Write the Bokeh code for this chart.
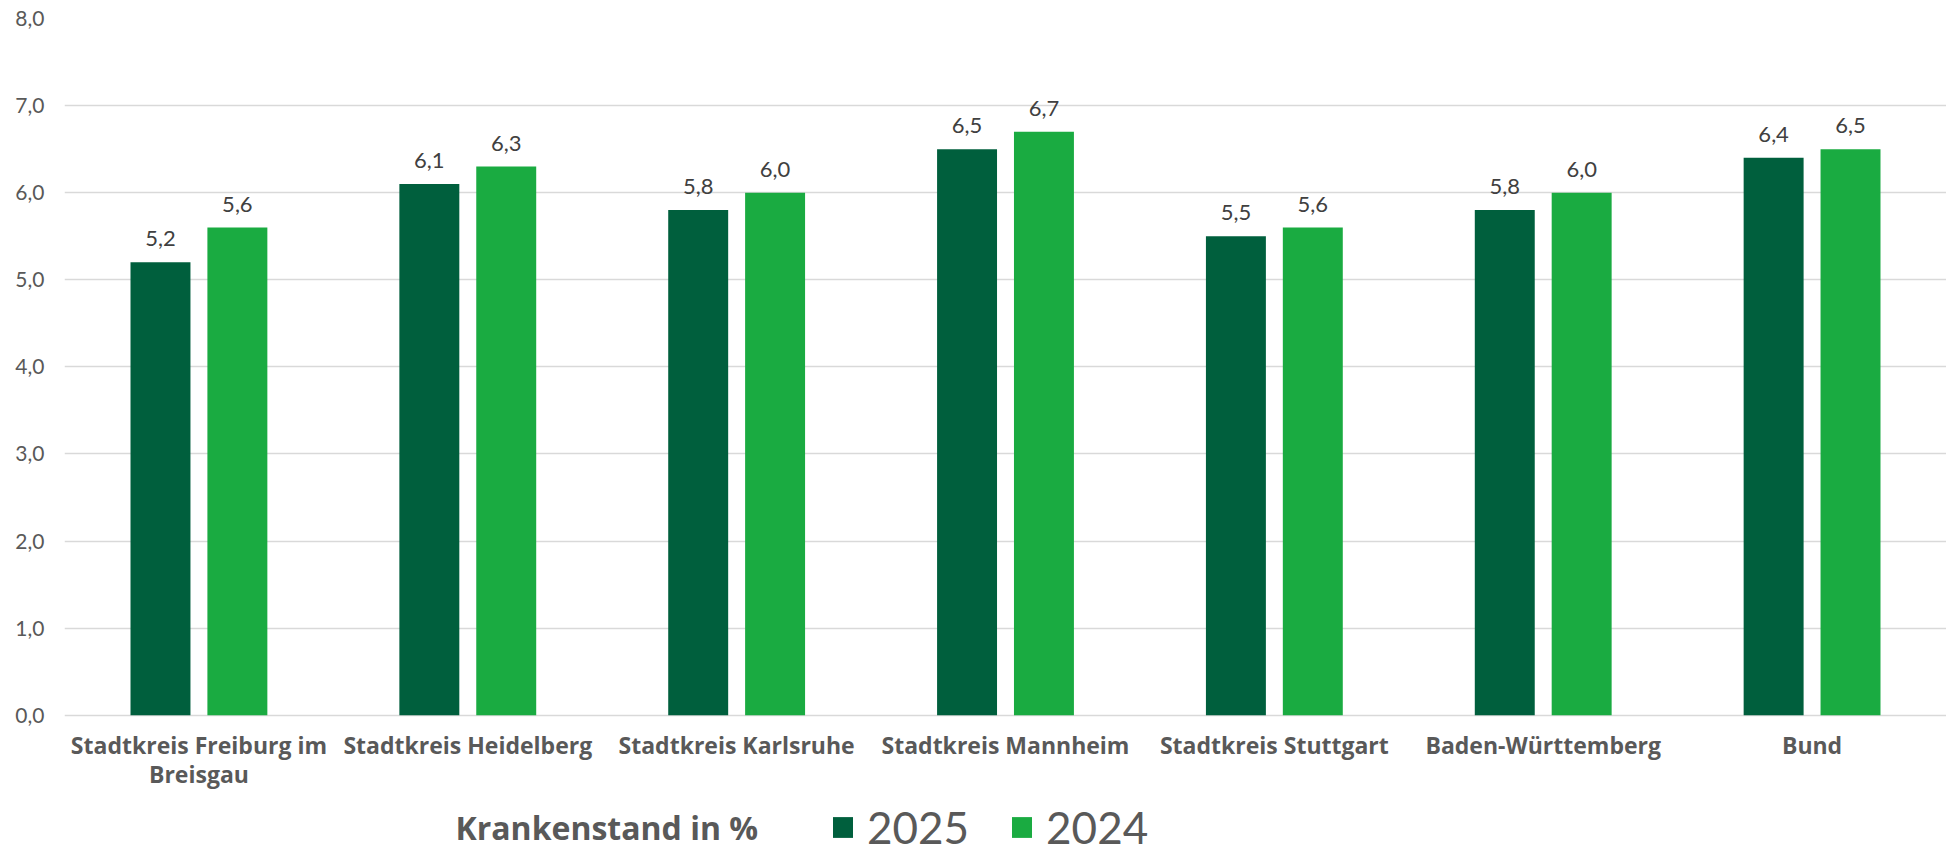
from bokeh.plotting import figure
from bokeh.models import (ColumnDataSource, FactorRange, Range1d, FixedTicker,
                          Legend, LegendItem, Label)
from bokeh.transform import dodge
from bokeh.core.properties import value
from bokeh.embed import file_html
from bokeh.resources import INLINE

categories = ["Stadtkreis Freiburg im\nBreisgau", "Stadtkreis Heidelberg",
              "Stadtkreis Karlsruhe", "Stadtkreis Mannheim", "Stadtkreis Stuttgart",
              "Baden-Württemberg", "Bund"]
v2025 = [5.2, 6.1, 5.8, 6.5, 5.5, 5.8, 6.4]
v2024 = [5.6, 6.3, 6.0, 6.7, 5.6, 6.0, 6.5]
series_names = ["2025", "2024"]
y_ticks = [0, 1, 2, 3, 4, 5, 6, 7, 8]
y_tick_labels = ["0,0", "1,0", "2,0", "3,0", "4,0", "5,0", "6,0", "7,0", "8,0"]
legend_title = "Krankenstand in %"

DARK = "#005f3d"
LIGHT = "#1aab41"
FONT = "Lato"
CAT_FONT = "Open Sans"
GREY = "#595959"

def fmt(v):
    return f"{v:.1f}".replace(".", ",")

src = ColumnDataSource(dict(
    cat=categories, a=v2025, b=v2024,
    la=[fmt(v) for v in v2025], lb=[fmt(v) for v in v2024]))

# the frame reaches the bottom of the canvas; the x axis is pinned at y = 0
p = figure(x_range=FactorRange(*categories, range_padding=0),
           y_range=Range1d(-1.60, 8), width=1946, height=854,
           output_backend="svg", toolbar_location=None,
           min_border_left=64, min_border_right=0, min_border_top=18,
           min_border_bottom=0)
p.outline_line_color = None
p.background_fill_color = "white"
p.border_fill_color = "white"

off = 0.143
w = 0.223
r1 = p.vbar(x=dodge("cat", -off, range=p.x_range), top="a", width=w,
            source=src, fill_color=DARK, line_color=None)
r2 = p.vbar(x=dodge("cat", off, range=p.x_range), top="b", width=w,
            source=src, fill_color=LIGHT, line_color=None)

for col, lab, o in (("a", "la", -off), ("b", "lb", off)):
    p.text(x=dodge("cat", o, range=p.x_range), y=col, text=lab, source=src,
           text_align="center", text_baseline="bottom", y_offset=-16,
           text_font=value(FONT), text_font_size="22px", text_color="#404040")

p.xgrid.grid_line_color = None
p.ygrid.grid_line_color = "#d9d9d9"
p.ygrid.grid_line_width = 1.5

p.yaxis.ticker = FixedTicker(ticks=y_ticks)
p.yaxis.major_label_overrides = {t: l for t, l in zip(y_ticks, y_tick_labels)}
p.yaxis.axis_line_color = None
p.yaxis.major_tick_line_color = None
p.yaxis.minor_tick_line_color = None
p.yaxis.major_tick_out = 0
p.yaxis.major_label_standoff = 20
p.yaxis.major_label_text_font = FONT
p.yaxis.major_label_text_font_size = "21px"
p.yaxis.major_label_text_color = GREY

p.xaxis.fixed_location = 0
p.xaxis.axis_line_color = None
p.xaxis.major_tick_line_color = None
p.xaxis.major_tick_out = 0
p.xaxis.major_label_standoff = 14
p.xaxis.major_label_text_font = CAT_FONT
p.xaxis.major_label_text_font_size = "23px"
p.xaxis.major_label_text_font_style = "bold"
p.xaxis.major_label_text_line_height = 0.9
p.xaxis.major_label_text_color = GREY

legend = Legend(items=[LegendItem(label=series_names[0], renderers=[r1]),
                       LegendItem(label=series_names[1], renderers=[r2])],
                orientation="horizontal", location=(766, 1))
legend.label_text_font = FONT
legend.label_text_font_size = "44px"
legend.label_text_color = GREY
legend.label_standoff = 12
legend.glyph_width = 25
legend.glyph_height = 26
legend.spacing = 40
legend.padding = 0
legend.margin = 0
legend.border_line_color = None
legend.background_fill_alpha = 0
p.add_layout(legend, "center")

title = Label(x=391, y=27, x_units="screen", y_units="screen", text=legend_title,
              text_font=CAT_FONT, text_font_size="32px", text_font_style="bold",
              text_color=GREY, text_baseline="alphabetic", text_align="left")
p.add_layout(title)

open("out.html", "w").write(file_html(p, INLINE))
